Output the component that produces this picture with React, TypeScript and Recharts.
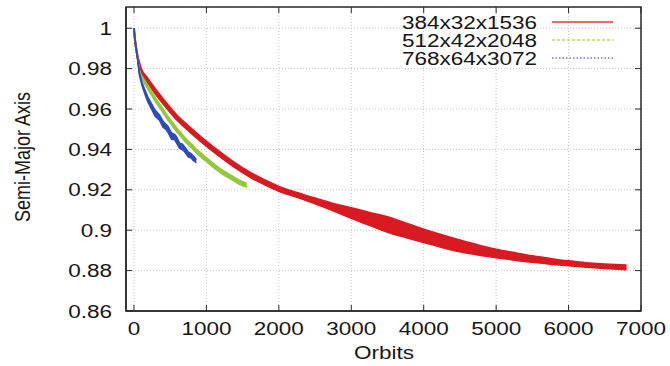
import { ComposedChart, Area, XAxis, YAxis, CartesianGrid, Legend } from "recharts";

// red run, 384x32x1536: lower / upper edge of the noisy band
const redOrbits = [0, 15, 30, 50, 100, 170, 300, 450, 600, 750, 900, 1000, 1200, 1400, 1600, 1800, 2000, 2250, 2500, 2750, 3000, 3250, 3500, 3750, 4000, 4250, 4500, 4750, 5000, 5250, 5500, 5750, 6000, 6250, 6500, 6800];
const redLow = [0.9996, 0.9936, 0.9895, 0.9852, 0.9782, 0.974, 0.9674, 0.9606, 0.9544, 0.9494, 0.9447, 0.9417, 0.9361, 0.9309, 0.9264, 0.9227, 0.9194, 0.9164, 0.9132, 0.9097, 0.906, 0.9025, 0.8991, 0.8965, 0.894, 0.8916, 0.8894, 0.8878, 0.8865, 0.8853, 0.8842, 0.8833, 0.8825, 0.8818, 0.8812, 0.8806];
const redHigh = [1.0, 0.9944, 0.9905, 0.9864, 0.9798, 0.976, 0.9696, 0.9628, 0.9566, 0.9516, 0.9469, 0.9439, 0.9383, 0.9331, 0.9286, 0.9249, 0.9216, 0.9186, 0.9158, 0.9131, 0.911, 0.9087, 0.9065, 0.9035, 0.9004, 0.8976, 0.895, 0.8926, 0.8905, 0.8888, 0.8872, 0.8859, 0.8847, 0.8838, 0.8832, 0.8826];

// green run, 512x42x2048
const greenOrbits = [0, 15, 30, 50, 74, 120, 167, 240, 306, 380, 444, 520, 583, 650, 722, 800, 861, 930, 1000, 1070, 1139, 1210, 1278, 1350, 1417, 1490, 1556];
const greenLow = [0.9999, 0.9937, 0.9896, 0.985, 0.9784, 0.9742, 0.9713, 0.967, 0.963, 0.9593, 0.9557, 0.952, 0.949, 0.9462, 0.9432, 0.9405, 0.9382, 0.936, 0.934, 0.9318, 0.9298, 0.928, 0.9265, 0.925, 0.9235, 0.9222, 0.9212];
const greenHigh = [1.0001, 0.9943, 0.9904, 0.986, 0.9796, 0.9758, 0.9731, 0.969, 0.965, 0.9613, 0.9577, 0.954, 0.951, 0.9482, 0.9452, 0.9425, 0.9402, 0.938, 0.936, 0.9338, 0.9318, 0.93, 0.9285, 0.927, 0.9255, 0.9242, 0.9232];

// blue run, 768x64x3072 (ragged)
const blueOrbits = [0, 15, 30, 50, 74, 110, 144, 190, 236, 290, 352, 400, 440, 468, 520, 560, 583, 630, 670, 699, 750, 790, 815, 840, 861];
const blueLow = [0.9999, 0.9937, 0.9896, 0.9845, 0.9769, 0.9717, 0.968, 0.9636, 0.9604, 0.9565, 0.9545, 0.951, 0.9499, 0.9485, 0.9449, 0.9449, 0.9435, 0.9405, 0.9398, 0.9388, 0.9363, 0.9357, 0.9347, 0.934, 0.9335];
const blueHigh = [1.0001, 0.9943, 0.9904, 0.9855, 0.9781, 0.9733, 0.97, 0.966, 0.963, 0.9595, 0.9571, 0.954, 0.9525, 0.9515, 0.9481, 0.9475, 0.9465, 0.9431, 0.9426, 0.9412, 0.9387, 0.9379, 0.9369, 0.936, 0.9349];

const xTicks = [0, 1000, 2000, 3000, 4000, 5000, 6000, 7000];
const yTicks = [0.86, 0.88, 0.9, 0.92, 0.94, 0.96, 0.98, 1];
const seriesNames = ["384x32x1536", "512x42x2048", "768x64x3072"];

const toBand = (xs: number[], lo: number[], hi: number[]) => xs.map((x, i) => ({ x, band: [lo[i], hi[i]] }));
const redData = toBand(redOrbits, redLow, redHigh);
const greenData = toBand(greenOrbits, greenLow, greenHigh);
const blueData = toBand(blueOrbits, blueLow, blueHigh);

const font = "'Liberation Sans', Arial, Helvetica, sans-serif";
const ink = "#161616";
const frame = "#2a2a2a";
const xDomain = [-110, 7000];
const yDomain = [0.86, 1.0105];

// plot box that the margins below produce
const box = { left: 126, top: 7, width: 515, height: 304 };
const boxX = (v: number) => box.left + ((v - xDomain[0]) / (xDomain[1] - xDomain[0])) * box.width;
const boxY = (v: number) => box.top + ((yDomain[1] - v) / (yDomain[1] - yDomain[0])) * box.height;

const legendLines = [
  { color: "#e4393f", dash: undefined },
  { color: "#c3d756", dash: "3 2" },
  { color: "#6d78d4", dash: "1.5 2" },
];

function BottomTick({ x, y, payload }: any) {
  return (
    <g>
      <line x1={x} x2={x} y1={y} y2={y - 6} stroke={frame} strokeWidth={1} />
      <text transform={`translate(${x},${y + 24}) scale(1.25,1)`} textAnchor="middle" fontSize={18} fontFamily={font} fill={ink}>
        {payload.value}
      </text>
    </g>
  );
}

function LeftTick({ x, y, payload }: any) {
  return (
    <g>
      <line x1={x} x2={x + 6} y1={y} y2={y} stroke={frame} strokeWidth={1} />
      <text transform={`translate(${x - 14},${y + 6.5}) scale(1.25,1)`} textAnchor="end" fontSize={18} fontFamily={font} fill={ink}>
        {String(payload.value)}
      </text>
    </g>
  );
}

// key plus the gnuplot border (full box, inward ticks on top and right)
function KeyBox() {
  const right = box.left + box.width;
  return (
    <svg width={670} height={366} style={{ display: "block" }}>
      <rect x={box.left} y={box.top} width={box.width} height={box.height} fill="none" stroke={frame} strokeWidth={1.5} />
      {xTicks.map((t) => (
        <line key={`t${t}`} x1={boxX(t)} x2={boxX(t)} y1={box.top} y2={box.top + 6} stroke={frame} strokeWidth={1} />
      ))}
      {yTicks.map((t) => (
        <line key={`r${t}`} x1={right} x2={right - 6} y1={boxY(t)} y2={boxY(t)} stroke={frame} strokeWidth={1} />
      ))}
      {seriesNames.map((name, i) => {
        const cy = 22 + i * 18;
        return (
          <g key={name}>
            <text transform={`translate(537,${cy + 6.5}) scale(1.25,1)`} textAnchor="end" fontSize={18} fontFamily={font} fill={ink}>
              {name}
            </text>
            <line x1={552} x2={613} y1={cy} y2={cy} stroke={legendLines[i].color} strokeWidth={1.5} strokeDasharray={legendLines[i].dash} />
          </g>
        );
      })}
    </svg>
  );
}

export default function App() {
  return (
    <div style={{ position: "absolute", left: 0, top: 0, width: 670, height: 366, background: "#fff" }}>
      <ComposedChart width={670} height={366} margin={{ top: 7, right: 29, bottom: 0, left: 0 }}>
        <CartesianGrid stroke="#c4c4c4" strokeDasharray="1 2" strokeWidth={1} />
        <XAxis
          type="number"
          dataKey="x"
          domain={xDomain}
          allowDataOverflow
          ticks={xTicks}
          height={55}
          tickSize={0}
          tickMargin={0}
          tickLine={false}
          axisLine={{ stroke: frame, strokeWidth: 1.5 }}
          tick={<BottomTick />}
          label={{
            content: () => (
              <text transform="translate(384,359) scale(1.25,1)" textAnchor="middle" fontSize={18} fontFamily={font} fill={ink}>
                Orbits
              </text>
            ),
          }}
        />
        <YAxis
          type="number"
          domain={yDomain}
          allowDataOverflow
          ticks={yTicks}
          width={126}
          tickSize={0}
          tickMargin={0}
          tickLine={false}
          axisLine={{ stroke: frame, strokeWidth: 1.5 }}
          tick={<LeftTick />}
          label={{
            content: () => (
              <text transform="translate(30,157) scale(1.25,1) rotate(-90)" textAnchor="middle" fontSize={18} fontFamily={font} fill={ink}>
                Semi-Major Axis
              </text>
            ),
          }}
        />
        <Legend
          layout="horizontal"
          align="center"
          verticalAlign="middle"
          content={() => <KeyBox />}
          wrapperStyle={{ left: 0, top: 0, width: 670, height: 366, pointerEvents: "none" }}
        />
        <Area
          data={redData}
          dataKey="band"
          type="monotone"
          stroke="#d91a20"
          strokeWidth={2}
          fill="#d91a20"
          fillOpacity={1}
          dot={false}
          activeDot={false}
          isAnimationActive={false}
        />
        <Area
          data={greenData}
          dataKey="band"
          type="monotone"
          stroke="#94c83c"
          strokeWidth={1.5}
          fill="#94c83c"
          fillOpacity={1}
          dot={false}
          activeDot={false}
          isAnimationActive={false}
        />
        <Area
          data={blueData}
          dataKey="band"
          type="linear"
          stroke="#2c4bb8"
          strokeWidth={1.5}
          fill="#2c4bb8"
          fillOpacity={1}
          dot={false}
          activeDot={false}
          isAnimationActive={false}
        />
      </ComposedChart>
    </div>
  );
}
